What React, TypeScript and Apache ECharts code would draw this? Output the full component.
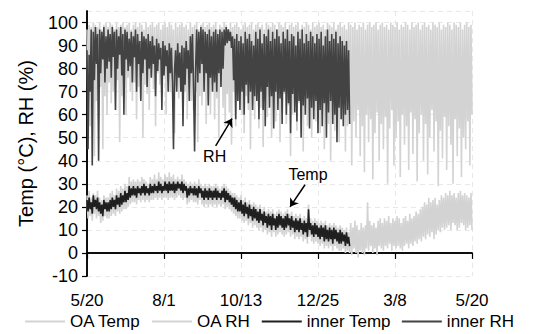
import { useEffect, useRef } from "react";
import * as echarts from "echarts";

// x axis: days since 5/20 (0..365); tick every 73 days
const xTickLabels = ["5/20", "8/1", "10/13", "12/25", "3/8", "5/20"];

// Outdoor air relative humidity (%), one value per day from 5/20
const oaRH = [
  97, 62, 99, 55, 98, 70, 100, 42, 99, 66, 98, 58, 100, 72, 97, 45, 99, 68, 100, 60,
  98, 74, 100, 65, 99, 70, 97, 62, 100, 75, 98, 48, 99, 68, 100, 72, 98, 60, 99, 76,
  100, 70, 97, 66, 99, 74, 100, 58, 98, 72, 100, 67, 99, 50, 97, 73, 100, 69, 98, 62,
  99, 77, 100, 71, 98, 55, 99, 78, 100, 73, 97, 68, 99, 79, 100, 60, 98, 74, 100, 70,
  99, 76, 97, 52, 100, 72, 98, 67, 99, 75, 100, 63, 98, 70, 99, 58, 97, 72, 100, 66,
  98, 62, 99, 70, 100, 48, 97, 68, 99, 64, 100, 71, 98, 56, 99, 66, 100, 60, 98, 73,
  99, 58, 100, 67, 97, 50, 99, 72, 98, 63, 100, 55, 99, 69, 97, 61, 100, 47, 98, 70,
  99, 55, 100, 66, 98, 72, 97, 60, 99, 52, 100, 68, 98, 62, 99, 45, 100, 64, 97, 58,
  99, 70, 100, 54, 98, 63, 99, 46, 97, 66, 100, 59, 99, 68, 98, 50, 100, 62, 99, 57,
  97, 67, 100, 48, 99, 61, 98, 69, 100, 56, 97, 64, 99, 42, 100, 60, 98, 66, 99, 53,
  100, 65, 97, 58, 99, 44, 98, 63, 100, 55, 99, 68, 97, 50, 100, 62, 98, 57, 99, 66,
  100, 52, 98, 61, 99, 45, 97, 64, 100, 56, 99, 40, 98, 60, 100, 53, 97, 63, 99, 48,
  100, 58, 98, 62, 99, 44, 97, 55, 100, 60, 99, 38, 98, 57, 100, 50, 97, 62, 99, 42,
  98, 55, 100, 35, 97, 60, 99, 48, 100, 58, 98, 32, 99, 52, 100, 61, 97, 40, 99, 56,
  100, 45, 98, 59, 99, 30, 97, 54, 100, 62, 99, 38, 98, 50, 100, 57, 97, 33, 99, 60,
  98, 47, 100, 55, 99, 36, 97, 61, 100, 43, 98, 58, 99, 31, 100, 52, 97, 60, 99, 40,
  100, 56, 98, 34, 99, 50, 97, 62, 100, 44, 99, 57, 98, 29, 100, 53, 97, 41, 99, 59,
  98, 36, 100, 55, 99, 47, 97, 30, 100, 58, 99, 42, 98, 54, 100, 33, 97, 50, 99, 45,
  100, 57, 98, 38, 99, 60,
];

// Outdoor air temperature (°C), one value per day from 5/20
const oaTemp = [
  25, 15, 27, 16, 24, 14, 26, 17, 25, 15, 27, 16, 24, 13, 23, 14, 25, 16, 24, 15,
  24, 15, 26, 16, 27, 17, 25, 16, 28, 18, 27, 17, 29, 18, 28, 19, 30, 19, 29, 20,
  33, 21, 31, 22, 32, 22, 31, 21, 32, 23, 31, 22, 33, 23, 32, 22, 31, 23, 30, 22,
  33, 23, 32, 23, 34, 24, 32, 23, 35, 24, 33, 23, 32, 24, 34, 24, 33, 23, 35, 24,
  33, 24, 34, 23, 32, 24, 33, 25, 32, 24, 34, 23, 32, 24, 31, 21, 30, 22, 31, 23,
  30, 22, 31, 22, 30, 21, 32, 23, 30, 21, 29, 20, 30, 21, 29, 20, 30, 21, 29, 20,
  29, 21, 30, 20, 29, 21, 28, 20, 29, 21, 30, 19, 29, 20, 28, 19, 27, 18, 26, 17,
  26, 16, 25, 15, 24, 15, 25, 14, 23, 13, 24, 14, 22, 12, 23, 13, 21, 11, 22, 12,
  21, 11, 20, 10, 21, 11, 19, 9, 20, 10, 18, 8, 19, 9, 18, 7, 19, 9, 17, 7,
  18, 8, 19, 9, 18, 8, 17, 7, 18, 8, 19, 9, 17, 7, 18, 8, 16, 6, 17, 7,
  16, 6, 17, 7, 15, 5, 16, 6, 15, 4, 21, 7, 15, 5, 14, 4, 15, 5, 14, 4,
  13, 3, 14, 4, 13, 2, 14, 3, 12, 2, 13, 3, 12, 1, 13, 3, 12, 2, 11, 1,
  12, 1, 11, 2, 10, 0, 11, 1, 9, 0, 13, -1, 11, 2, 14, 0, 12, -2, 10, 1,
  13, 0, 11, -1, 12, 2, 22, 1, 14, 3, 12, 0, 13, 2, 11, -1, 14, 3, 15, 2,
  13, 1, 15, 3, 14, 2, 16, 4, 13, 1, 15, 3, 14, 2, 16, 3, 15, 2, 13, 1,
  15, 3, 16, 4, 14, 2, 17, 4, 15, 3, 16, 5, 18, 4, 17, 6, 19, 5, 20, 7,
  22, 6, 21, 8, 24, 7, 22, 9, 23, 6, 24, 8, 21, 10, 23, 9, 25, 11, 24, 10,
  26, 11, 25, 12, 27, 10, 25, 13, 26, 12, 24, 10, 26, 11, 27, 13, 25, 12, 26, 10,
  25, 11, 24, 12, 26, 10,
];

// Indoor relative humidity (%), one value per day from 5/20 (ends late January)
const innerRH = [
  88, 45, 86, 70, 97, 38, 96, 75, 98, 82, 95, 40, 97, 78, 96, 84, 98, 74, 94, 80,
  97, 83, 95, 76, 98, 85, 96, 62, 97, 80, 94, 86, 98, 77, 95, 60, 97, 84, 96, 79,
  93, 81, 96, 74, 94, 85, 97, 70, 95, 82, 92, 66, 96, 78, 94, 84, 93, 72, 95, 80,
  92, 76, 94, 82, 90, 68, 93, 79, 91, 84, 89, 62, 92, 77, 90, 81, 88, 70, 91, 78,
  89, 74, 45, 79, 88, 70, 91, 76, 87, 70, 90, 55, 89, 73, 92, 80, 88, 66, 94, 78,
  95, 72, 44, 80, 97, 74, 96, 78, 98, 82, 97, 70, 96, 78, 95, 64, 97, 76, 94, 70,
  96, 74, 97, 70, 95, 78, 97, 72, 96, 80, 97, 90, 98, 91, 97, 92, 96, 89, 94, 75,
  93, 58, 95, 66, 92, 62, 94, 70, 91, 60, 96, 73, 93, 65, 95, 70, 92, 62, 90, 68,
  96, 66, 93, 58, 97, 70, 91, 62, 95, 55, 94, 72, 97, 63, 92, 68, 96, 54, 93, 70,
  97, 62, 94, 67, 91, 56, 96, 70, 93, 60, 97, 65, 92, 52, 95, 69, 94, 61, 90, 57,
  96, 66, 93, 50, 97, 64, 91, 60, 95, 67, 92, 54, 96, 63, 94, 58, 91, 66, 95, 52,
  93, 62, 96, 55, 90, 65, 94, 50, 97, 61, 92, 66, 95, 56, 93, 60, 96, 48, 91, 63,
  94, 58, 92, 55, 90, 60, 92, 62, 88, 56,
];

// Indoor temperature (°C), one value per day from 5/20 (ends late January)
const innerTemp = [
  23, 18, 24, 19, 22, 17, 25, 20, 23, 19, 24, 18, 22, 17, 21, 16, 23, 19, 22, 18,
  22, 18, 23, 19, 24, 20, 23, 19, 25, 21, 24, 20, 26, 21, 25, 22, 27, 22, 26, 23,
  29, 24, 28, 25, 29, 25, 28, 24, 29, 26, 28, 25, 29, 26, 30, 25, 29, 26, 28, 25,
  30, 26, 29, 26, 30, 27, 29, 26, 31, 27, 30, 26, 29, 27, 31, 27, 30, 26, 31, 27,
  30, 27, 31, 26, 30, 27, 31, 28, 30, 27, 31, 26, 30, 27, 29, 24, 28, 25, 29, 26,
  28, 25, 29, 25, 28, 24, 29, 26, 28, 24, 27, 23, 28, 24, 27, 23, 28, 24, 27, 23,
  27, 24, 28, 23, 27, 24, 26, 23, 27, 24, 28, 22, 27, 23, 26, 22, 25, 21, 24, 20,
  24, 19, 23, 18, 22, 18, 23, 17, 21, 16, 22, 17, 20, 15, 21, 16, 19, 14, 20, 15,
  19, 14, 18, 13, 19, 14, 17, 12, 18, 13, 16, 11, 17, 12, 16, 10, 17, 12, 15, 10,
  16, 11, 17, 12, 16, 11, 15, 10, 16, 11, 17, 12, 15, 10, 16, 11, 14, 9, 15, 10,
  14, 9, 15, 10, 13, 8, 14, 9, 13, 7, 19, 10, 13, 8, 12, 7, 13, 8, 12, 7,
  11, 6, 12, 7, 11, 5, 12, 6, 10, 5, 11, 6, 10, 4, 11, 6, 10, 5, 9, 4,
  10, 4, 9, 5, 8, 3, 9, 4, 7, 3,
];

// Annotations, in data coordinates [day, value]
const rhLabel = { text: "RH", at: [121, 42], from: [122, 46.5], to: [137.5, 58.3] };
const tempLabel = { text: "Temp", at: [209.5, 34], from: [206.7, 29.6], to: [192.5, 20] };

const FONT = "'Liberation Sans', Arial, Helvetica, sans-serif";
const LIGHT = "#d3d3d3";
const DARK_RH = "#434343";
const DARK_T = "#1f1f1f";

const pairs = (arr: number[]) => arr.map((v, i) => [i, v]);

export default function App() {
  const ref = useRef<HTMLDivElement>(null);

  useEffect(() => {
    if (!ref.current) return;
    const chart = echarts.init(ref.current, undefined, { renderer: "svg" });

    const annotationLine = (a: typeof rhLabel) => [
      { coord: a.from, symbol: "none" },
      { coord: a.to, symbol: "arrow" },
    ];

    chart.setOption({
      animation: false,
      textStyle: { fontFamily: FONT },
      grid: { left: 87, right: 67, top: 11, bottom: 58, containLabel: false },
      legend: {
        left: "center",
        top: 313,
        padding: 0,
        icon: "rect",
        itemWidth: 40,
        itemHeight: 2,
        itemGap: 11,
        textStyle: { fontSize: 17, color: "#000", fontFamily: FONT },
        data: ["OA Temp", "OA RH", "inner Temp", "inner RH"],
      },
      xAxis: [
        {
          type: "value",
          min: 0,
          max: 365,
          interval: 73,
          axisLine: { show: true, lineStyle: { color: "#000", width: 1.5 } },
          axisTick: { show: true, length: 6, lineStyle: { color: "#000", width: 1.2 } },
          axisLabel: {
            color: "#000",
            fontSize: 17,
            fontFamily: FONT,
            margin: 16,
            formatter: (v: number) => xTickLabels[Math.round(v / 73)] ?? "",
          },
          splitLine: { show: true, lineStyle: { color: "#e8e8e8", type: [5, 4], width: 1 } },
        },
        {
          type: "value",
          position: "top",
          min: 0,
          max: 365,
          axisLine: { show: true, lineStyle: { color: "#000", width: 1.5 } },
          axisTick: { show: false },
          axisLabel: { show: false },
          splitLine: { show: false },
        },
      ],
      yAxis: [
        {
          type: "value",
          min: -10,
          max: 105,
          interval: 10,
          name: "Temp (°C), RH (%)",
          nameLocation: "middle",
          nameGap: 51,
          nameTextStyle: { fontSize: 20, color: "#000", fontFamily: FONT },
          axisLine: { show: true, lineStyle: { color: "#000", width: 1.5 } },
          axisTick: { show: true, length: 5, lineStyle: { color: "#000", width: 1.2 } },
          axisLabel: {
            color: "#000",
            fontSize: 18,
            fontFamily: FONT,
            margin: 9,
            showMaxLabel: false,
            formatter: (v: number) => (v > 100 ? "" : String(v)),
          },
          splitLine: { show: true, lineStyle: { color: "#e8e8e8", type: [5, 4], width: 1 } },
        },
        {
          type: "value",
          position: "right",
          min: -10,
          max: 105,
          axisLine: { show: true, lineStyle: { color: "#000", width: 1.5 } },
          axisTick: { show: false },
          axisLabel: { show: false },
          splitLine: { show: false },
        },
      ],
      series: [
        {
          name: "OA Temp",
          type: "line",
          data: pairs(oaTemp),
          symbol: "none",
          lineStyle: { color: LIGHT, width: 1.6 },
          itemStyle: { color: LIGHT },
          z: 1,
        },
        {
          name: "OA RH",
          type: "line",
          data: pairs(oaRH),
          symbol: "none",
          lineStyle: { color: LIGHT, width: 1.6 },
          itemStyle: { color: LIGHT },
          z: 1,
        },
        {
          name: "inner Temp",
          type: "line",
          data: pairs(innerTemp),
          symbol: "none",
          lineStyle: { color: DARK_T, width: 1.6 },
          itemStyle: { color: DARK_T },
          z: 3,
          markLine: {
            silent: true,
            symbolSize: 8,
            label: { show: false },
            lineStyle: { color: "#000", width: 1.5, type: "solid" },
            data: [annotationLine(rhLabel), annotationLine(tempLabel)],
          },
          markPoint: {
            silent: true,
            symbol: "circle",
            symbolSize: 0,
            label: {
              show: true,
              position: "inside",
              color: "#000",
              fontSize: 16,
              fontFamily: FONT,
              formatter: (p: any) => p.name,
            },
            data: [
              { name: rhLabel.text, coord: rhLabel.at },
              { name: tempLabel.text, coord: tempLabel.at },
            ],
          },
        },
        {
          name: "inner RH",
          type: "line",
          data: pairs(innerRH),
          symbol: "none",
          lineStyle: { color: DARK_RH, width: 1.6 },
          itemStyle: { color: DARK_RH },
          z: 2,
        },
      ],
    });

    return () => chart.dispose();
  }, []);

  return (
    <div
      ref={ref}
      style={{ position: "fixed", left: 0, top: 0, width: 539, height: 334, background: "#fff" }}
    />
  );
}
